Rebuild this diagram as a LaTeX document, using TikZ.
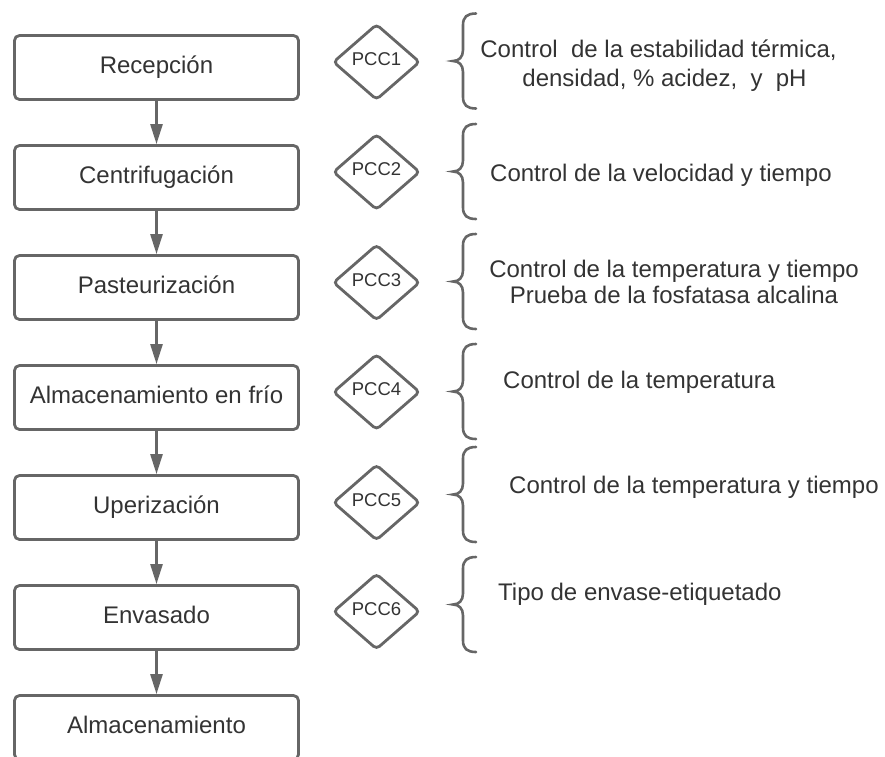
\documentclass[tikz,border=0pt]{standalone}
\usepackage{fontspec}
\setmainfont{Liberation Sans}
\usetikzlibrary{shapes.geometric,arrows.meta}
\definecolor{linegray}{HTML}{666666}
\definecolor{textgray}{HTML}{333333}
\newcommand{\mybrace}[1]{%
  \draw[bracestyle] (476,{#1-47.5}) .. controls (467,{#1-47.5}) and (463,{#1-44}) .. (463,{#1-36})
    -- (463,{#1-11}) .. controls (463,{#1-4}) and (459,{#1}) .. (453,{#1})
    .. controls (459,{#1}) and (463,{#1+4}) .. (463,{#1+11})
    -- (463,{#1+36}) .. controls (463,{#1+44}) and (467,{#1+47.5}) .. (476,{#1+47.5});}
\begin{document}
\begin{tikzpicture}[x=1pt,y=-1pt,
  stepbox/.style={draw=linegray, line width=2.8pt, rounded corners=5pt,
    minimum width=284pt, minimum height=64pt, inner sep=0pt, text=textgray,
    font=\fontsize{24}{29}\selectfont, text height=17.6pt, text depth=6pt},
  pcc/.style={diamond, draw=linegray, line width=2.8pt, rounded corners=4pt,
    minimum width=87pt, minimum height=76pt, inner sep=0pt, text=textgray,
    font=\fontsize{18.5}{22}\selectfont, text height=13pt, text depth=5.6pt},
  flow/.style={draw=linegray, line width=2.5pt, -{Triangle[length=20pt,width=12pt]}},
  bracestyle/.style={draw=linegray, line width=2.6pt, line cap=round},
  note/.style={text=textgray, font=\fontsize{24}{29}\selectfont, inner sep=0pt}
]
\useasboundingbox (0,0) rectangle (885,756);

% process steps
\node[stepbox] (s1) at (156.5,67.5) {Recepción};
\node[stepbox] (s2) at (156.5,177.5) {Centrifugación};
\node[stepbox] (s3) at (156.5,287.5) {Pasteurización};
\node[stepbox] (s4) at (156.5,397.5) {Almacenamiento en frío};
\node[stepbox] (s5) at (156.5,507.5) {Uperización};
\node[stepbox] (s6) at (156.5,617.5) {Envasado};
\node[stepbox] (s7) at (156.5,727.5) {Almacenamiento};

\draw[flow] (s1) -- (s2);
\draw[flow] (s2) -- (s3);
\draw[flow] (s3) -- (s4);
\draw[flow] (s4) -- (s5);
\draw[flow] (s5) -- (s6);
\draw[flow] (s6) -- (s7);

% critical control points
\node[pcc] (p1) at (376.5,62) {PCC1};
\node[pcc] (p2) at (376.5,172) {PCC2};
\node[pcc] (p3) at (376.5,282.5) {PCC3};
\node[pcc] (p4) at (376.5,392) {PCC4};
\node[pcc] (p5) at (376.5,502.5) {PCC5};
\node[pcc] (p6) at (376.5,611.5) {PCC6};

% braces
\mybrace{61}
\mybrace{171.5}
\mybrace{281.5}
\mybrace{391.5}
\mybrace{494.5}
\mybrace{604.5}

% notes
\node[note, anchor=base] (n1a) at (658.5,57) {Control\ \ de la estabilidad térmica,};
\node[note, anchor=base] (n1b) at (664.5,86) {densidad, \% acidez,\ \ y\ \ pH};
\node[note, anchor=base west] (n2) at (490,181) {Control de la velocidad y tiempo};
\node[note, anchor=base] (n3a) at (674,277) {Control de la temperatura y tiempo};
\node[note, anchor=base] (n3b) at (674,303.5) {Prueba de la fosfatasa alcalina};
\node[note, anchor=base west] (n4) at (503,388) {Control de la temperatura};
\node[note, anchor=base west] (n5) at (509,493) {Control de la temperatura y tiempo};
\node[note, anchor=base west] (n6) at (498,600) {Tipo de envase-etiquetado};
\end{tikzpicture}
\end{document}
